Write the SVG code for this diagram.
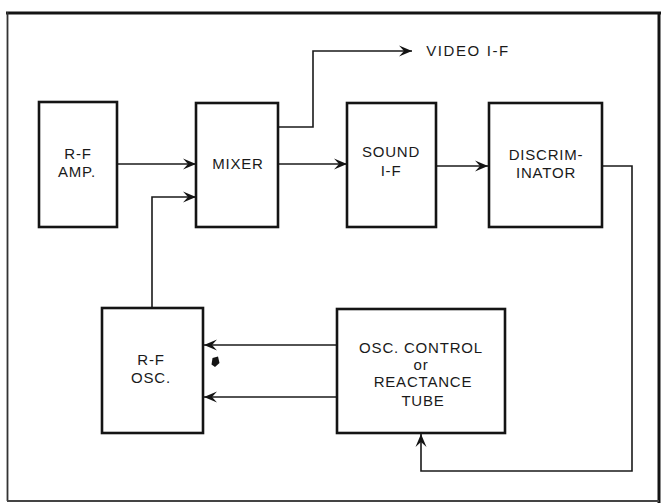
<svg xmlns="http://www.w3.org/2000/svg" width="666" height="503" viewBox="0 0 666 503">
  <defs>
    <style>
      .box { fill: #ffffff; stroke: #141414; stroke-width: 2.6; }
      .wire { fill: none; stroke: #1a1a1a; stroke-width: 1.6; }
      .lbl { font-family: "Liberation Sans", Arial, sans-serif; font-size: 15px; fill: #1a1a1a; text-anchor: middle; letter-spacing: 0.8px; }
    </style>
    <marker id="arr" markerUnits="userSpaceOnUse" viewBox="-14 -6 15 12" refX="0" refY="0" markerWidth="15" markerHeight="12" orient="auto" overflow="visible">
      <path d="M0,0 L-13,-5.5 L-8,0 L-13,5.5 Z" fill="#141414"/>
    </marker>
  </defs>
  <rect x="0" y="0" width="666" height="503" fill="#ffffff"/>

  <g id="frame">
    <line x1="6" y1="13" x2="661" y2="13" stroke="#141414" stroke-width="3.2"/>
    <line x1="7.5" y1="12" x2="7.5" y2="501" stroke="#333" stroke-width="1.8"/>
    <line x1="659" y1="12" x2="659" y2="503" stroke="#141414" stroke-width="3"/>
    <line x1="7" y1="501" x2="659" y2="501" stroke="#444" stroke-width="2"/>
  </g>

  <g id="connectors">
    <path class="wire" d="M117,164 H196" marker-end="url(#arr)"/>
    <path class="wire" d="M152,308 V197 H196" marker-end="url(#arr)"/>
    <path class="wire" d="M278,164 H347" marker-end="url(#arr)"/>
    <path class="wire" d="M278,127 H313 V51 H412" marker-end="url(#arr)"/>
    <path class="wire" d="M436,166 H488" marker-end="url(#arr)"/>
    <path class="wire" d="M602,166 H632 V471 H421 V434" marker-end="url(#arr)"/>
    <path class="wire" d="M337,345 H204" marker-end="url(#arr)"/>
    <path class="wire" d="M337,397 H204" marker-end="url(#arr)"/>
  </g>

  <g id="rf-amp">
    <rect class="box" x="39" y="102" width="78" height="125"/>
    <text class="lbl" x="78" y="159">R-F</text>
    <text class="lbl" x="77" y="177">AMP.</text>
  </g>

  <g id="mixer">
    <rect class="box" x="196" y="103" width="82" height="124"/>
    <text class="lbl" x="238" y="169">MIXER</text>
  </g>

  <g id="sound-if">
    <rect class="box" x="347" y="103" width="89" height="124"/>
    <text class="lbl" x="391" y="157">SOUND</text>
    <text class="lbl" x="391" y="176">I-F</text>
  </g>

  <g id="discriminator">
    <rect class="box" x="489" y="103" width="113" height="124"/>
    <text class="lbl" x="546" y="160">DISCRIM-</text>
    <text class="lbl" x="546" y="178">INATOR</text>
  </g>

  <g id="video-if">
    <text class="lbl" x="468" y="56" style="letter-spacing:1.6px">VIDEO I-F</text>
  </g>

  <g id="rf-osc">
    <rect class="box" x="102" y="308" width="101" height="125"/>
    <text class="lbl" x="151" y="365">R-F</text>
    <text class="lbl" x="151" y="383">OSC.</text>
  </g>

  <g id="osc-control">
    <rect class="box" x="337" y="309" width="168" height="124"/>
    <text class="lbl" x="421" y="353">OSC. CONTROL</text>
    <text class="lbl" x="421" y="370">or</text>
    <text class="lbl" x="423" y="387">REACTANCE</text>
    <text class="lbl" x="423" y="406">TUBE</text>
  </g>

  <g id="dot">
    <path d="M212.5,358 L218,356.5 L219.5,363 L215,367 L211.5,364.5 Z" fill="#141414"/>
  </g>
</svg>
